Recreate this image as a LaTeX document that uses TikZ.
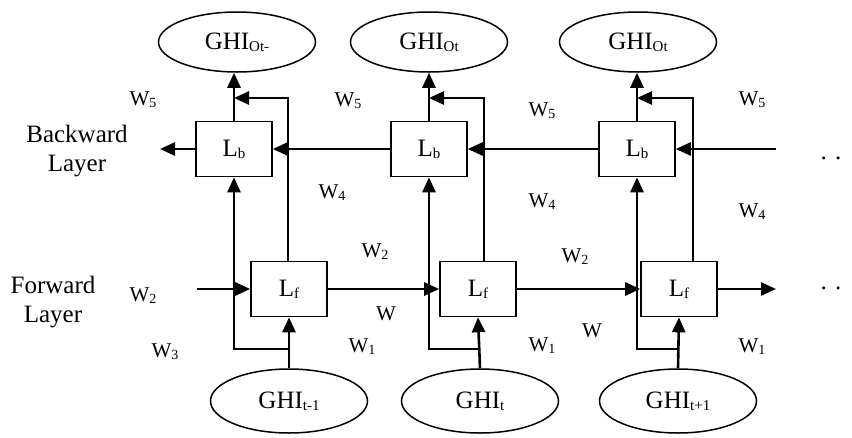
\documentclass[tikz,border=0pt]{standalone}
\usepackage{fontspec}
\setmainfont{Liberation Serif}
\usetikzlibrary{arrows.meta,shapes.geometric,calc}
\newcommand\sbs[1]{\raisebox{-2pt}{\fontsize{15}{15}\selectfont #1}}
\newcommand\wsb[1]{W\raisebox{-2pt}{\fontsize{14}{14}\selectfont #1}}
\tikzset{
  cell/.style={draw, line width=1.6pt, minimum width=76pt, minimum height=55pt, inner sep=0pt, font=\fontsize{25}{29}\selectfont},
  oval/.style={draw, ellipse, line width=1.5pt, minimum width=157pt, minimum height=60pt, inner sep=0pt, font=\fontsize{25}{29}\selectfont},
  wlab/.style={inner sep=0pt, font=\fontsize{21}{24}\selectfont},
  side/.style={inner sep=0pt, align=center, font=\fontsize{25}{29}\selectfont},
  arr/.style={line width=2.6pt, -{Triangle[length=15pt,width=13pt]}},
}
\begin{document}
\begin{tikzpicture}[x=1pt,y=-1pt]
\useasboundingbox (0,0) rectangle (852,437);
% boxes
\node[cell] (Lb1) at (234,149) {L\sbs{b}};
\node[cell] (Lb2) at (429,149) {L\sbs{b}};
\node[cell] (Lb3) at (637,149) {L\sbs{b}};
\node[cell] (Lf1) at (289,289) {L\sbs{f}};
\node[cell] (Lf2) at (478,289) {L\sbs{f}};
\node[cell] (Lf3) at (679,289) {L\sbs{f}};
% ellipses
\node[oval] (O1) at (237,42) {GHI\sbs{Ot-}};
\node[oval] (O2) at (429,42) {GHI\sbs{Ot}};
\node[oval] (O3) at (638,42) {GHI\sbs{Ot}};
\node[oval, minimum height=64pt] (G1) at (289,401) {GHI\sbs{t-1}};
\node[oval, minimum height=64pt] (G2) at (480,401) {GHI\sbs{t}};
\node[oval, minimum height=64pt] (G3) at (678,401) {GHI\sbs{t+1}};
% side texts
\node[side] (BL) at (77,151) {Backward\\Layer};
\node[side] (FLt) at (53,302) {Forward\\Layer};
\node[side] (d1) at (831,158) {.\,\,.};
\node[side] (d2) at (831,288) {.\,\,.};
% weight labels
\node[wlab] (w51) at (143,100) {\wsb{5}};
\node[wlab] (w52) at (348,101) {\wsb{5}};
\node[wlab] (w53) at (542,111) {\wsb{5}};
\node[wlab] (w54) at (752,100) {\wsb{5}};
\node[wlab] (w41) at (332,193) {\wsb{4}};
\node[wlab] (w42) at (542,202) {\wsb{4}};
\node[wlab] (w43) at (752,212) {\wsb{4}};
\node[wlab] (w21) at (143,296) {\wsb{2}};
\node[wlab] (w22) at (375,252) {\wsb{2}};
\node[wlab] (w23) at (575,257) {\wsb{2}};
\node[wlab] (ww1) at (386,314) {W};
\node[wlab] (ww2) at (592,331) {W};
\node[wlab] (w11) at (362,347) {\wsb{1}};
\node[wlab] (w12) at (542,346) {\wsb{1}};
\node[wlab] (w13) at (752,347) {\wsb{1}};
\node[wlab] (w3) at (165,352) {\wsb{3}};
% free ends
\coordinate (BLe) at (160,149);
\coordinate (BRe) at (776,149);
\coordinate (FLe) at (197,289);
\coordinate (FRe) at (776,289);
\coordinate (T1) at (288,98);
\coordinate (T2) at (484,98);
\coordinate (T3) at (693,98);
\coordinate (J1) at (289,349);
\coordinate (J2) at (478,349);
\coordinate (J3) at (679,349);
% backward chain
\draw[arr] (Lb1.west) -- (BLe);
\draw[arr] (Lb2.west) -- (Lb1.east);
\draw[arr] (Lb3.west) -- (Lb2.east);
\draw[arr] (BRe) -- (Lb3.east);
% forward chain
\draw[arr] (FLe) -- (Lf1.west);
\draw[arr] (Lf1.east) -- (Lf2.west);
\draw[arr] (Lf2.east) -- (Lf3.west);
\draw[arr] (Lf3.east) -- (FRe);
% per column
\foreach \i in {1,2,3}{
  \draw[arr] (Lb\i.north) -- (Lb\i.north |- O\i.south);
  \draw[arr] (Lf\i.north -| T\i) -- (T\i) -- (T\i -| Lb\i.north);
  \draw[arr] (G\i.north) -- (Lf\i.south);
  \draw[arr] (J\i) -| (Lb\i.south);
}
\end{tikzpicture}
\end{document}
